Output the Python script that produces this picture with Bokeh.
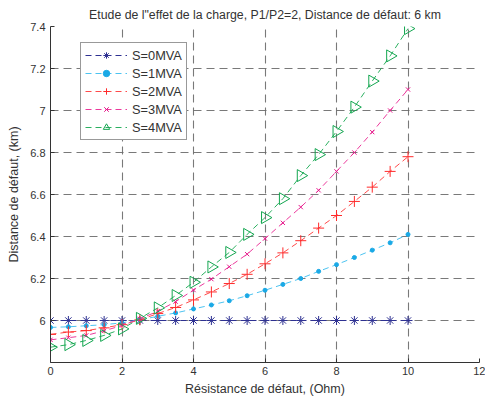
import numpy as np
from bokeh.plotting import figure
from bokeh.models import Range1d, FixedTicker, CustomJSTickFormatter, Legend, LegendItem
from bokeh.embed import file_html
from bokeh.resources import INLINE

# ---------------- data ----------------
x = [0, 0.5, 1, 1.5, 2, 2.5, 3, 3.5, 4, 4.5, 5, 5.5, 6, 6.5, 7, 7.5, 8, 8.5, 9, 9.5, 10]

s0 = [6, 6, 6, 6, 6, 6, 6, 6, 6, 6, 6, 6, 6, 6, 6, 6, 6, 6, 6, 6, 6]
s1 = [5.967, 5.970, 5.975, 5.980, 5.989, 6.003, 6.020, 6.036, 6.055, 6.074, 6.094,
      6.118, 6.144, 6.172, 6.200, 6.234, 6.266, 6.300, 6.335, 6.370, 6.410]
s2 = [5.934, 5.945, 5.952, 5.965, 5.980, 6.003, 6.033, 6.062, 6.098, 6.136, 6.176,
      6.220, 6.270, 6.322, 6.380, 6.440, 6.500, 6.567, 6.635, 6.710, 6.780]
s3 = [5.908, 5.918, 5.929, 5.951, 5.976, 6.008, 6.044, 6.090, 6.145, 6.197, 6.256,
      6.316, 6.390, 6.465, 6.540, 6.620, 6.710, 6.800, 6.897, 7.000, 7.100]
s4 = [5.873, 5.885, 5.905, 5.929, 5.960, 6.010, 6.060, 6.119, 6.182, 6.255, 6.324,
      6.410, 6.490, 6.580, 6.690, 6.790, 6.900, 7.016, 7.140, 7.260, 7.390]

labels = ["S=0MVA", "S=1MVA", "S=2MVA", "S=3MVA", "S=4MVA"]
x_ticks = [0, 2, 4, 6, 8, 10, 12]
y_ticks = [6, 6.2, 6.4, 6.6, 6.8, 7, 7.2, 7.4]

title_text = 'Etude de l"effet de la charge, P1/P2=2, Distance de défaut: 6 km'
xlabel = "Résistance de défaut, (Ohm)"
ylabel = "Distance de défaut, (km)"

# ---------------- styles ----------------
FONT = "Liberation Sans"
TXT = "#333333"
series = [
    (s0, "#2e3192", "#2e3192", "asterisk", 9, True),
    (s1, "#1aa9e6", "#4dc3f0", "circle", 4, True),
    (s2, "#ff2a2a", "#ff4a4a", "cross", 11, False),
    (s3, "#e6168a", "#eb3a9c", "x", 6, False),
    (s4, "#13a650", "#2bb060", "triangle", 12, False),
]

p = figure(width=485, height=403, output_backend="svg", toolbar_location=None,
           x_range=Range1d(0, 12), y_range=Range1d(5.8, 7.4),
           min_border_left=50, min_border_right=6, min_border_top=25, min_border_bottom=41)

p.title.text = title_text
p.title.align = "center"
p.title.text_font = FONT
p.title.text_font_size = "12.3px"
p.title.text_font_style = "normal"
p.title.text_color = TXT
p.title.standoff = 10
p.title.offset = 0

p.outline_line_color = None
p.background_fill_color = "white"
p.border_fill_color = "white"

fmt = CustomJSTickFormatter(code="return tick.toFixed(1).replace(/\\.0$/, '');")
for ax, ticks in ((p.xaxis[0], x_ticks), (p.yaxis[0], y_ticks)):
    ax.ticker = FixedTicker(ticks=ticks)
    ax.formatter = fmt
    ax.major_tick_in = 4
    ax.major_tick_out = 0
    ax.minor_tick_line_color = None
    ax.axis_line_color = "#333333"
    ax.major_tick_line_color = "#333333"
    ax.major_label_text_font = FONT
    ax.major_label_text_font_size = "11px"
    ax.major_label_text_color = TXT
    ax.axis_label_text_font = FONT
    ax.axis_label_text_font_size = "12.5px"
    ax.axis_label_text_font_style = "normal"
    ax.axis_label_text_color = TXT

p.xaxis.axis_label = xlabel
p.yaxis.axis_label = ylabel
p.xaxis.major_label_standoff = 4
p.xaxis.axis_label_standoff = 4
p.yaxis.major_label_standoff = 5
p.yaxis.axis_label_standoff = 6

for g in (p.xgrid[0], p.ygrid[0]):
    g.grid_line_color = "#6a6a6a"
    g.grid_line_dash = "8 5"
    g.grid_line_width = 1.1
    g.grid_line_alpha = 0.9

items = []
for (ys, mcol, lcol, marker, size, filled), lab in zip(series, labels):
    lr = p.line(x, ys, line_color=lcol, line_width=1, line_dash="6 4")
    kw = dict(marker=marker, size=size, line_color=mcol, line_width=1)
    kw["fill_color"] = mcol if filled else None
    if marker == "triangle":
        kw["angle"] = -np.pi / 2
    sr = p.scatter(x, ys, **kw)
    items.append(LegendItem(label=lab, renderers=[lr, sr]))

legend = Legend(items=items, location=(30, 222))
legend.label_text_font = FONT
legend.label_text_font_size = "12.8px"
legend.label_text_color = TXT
legend.glyph_width = 42
legend.glyph_height = 16
legend.label_height = 16
legend.spacing = 2
legend.label_standoff = 5
legend.padding = 4
legend.margin = 0
legend.border_line_color = "#333333"
legend.border_line_width = 1
legend.background_fill_color = "white"
legend.background_fill_alpha = 1
p.add_layout(legend, "center")

open("out.html", "w").write(file_html(p, INLINE))
